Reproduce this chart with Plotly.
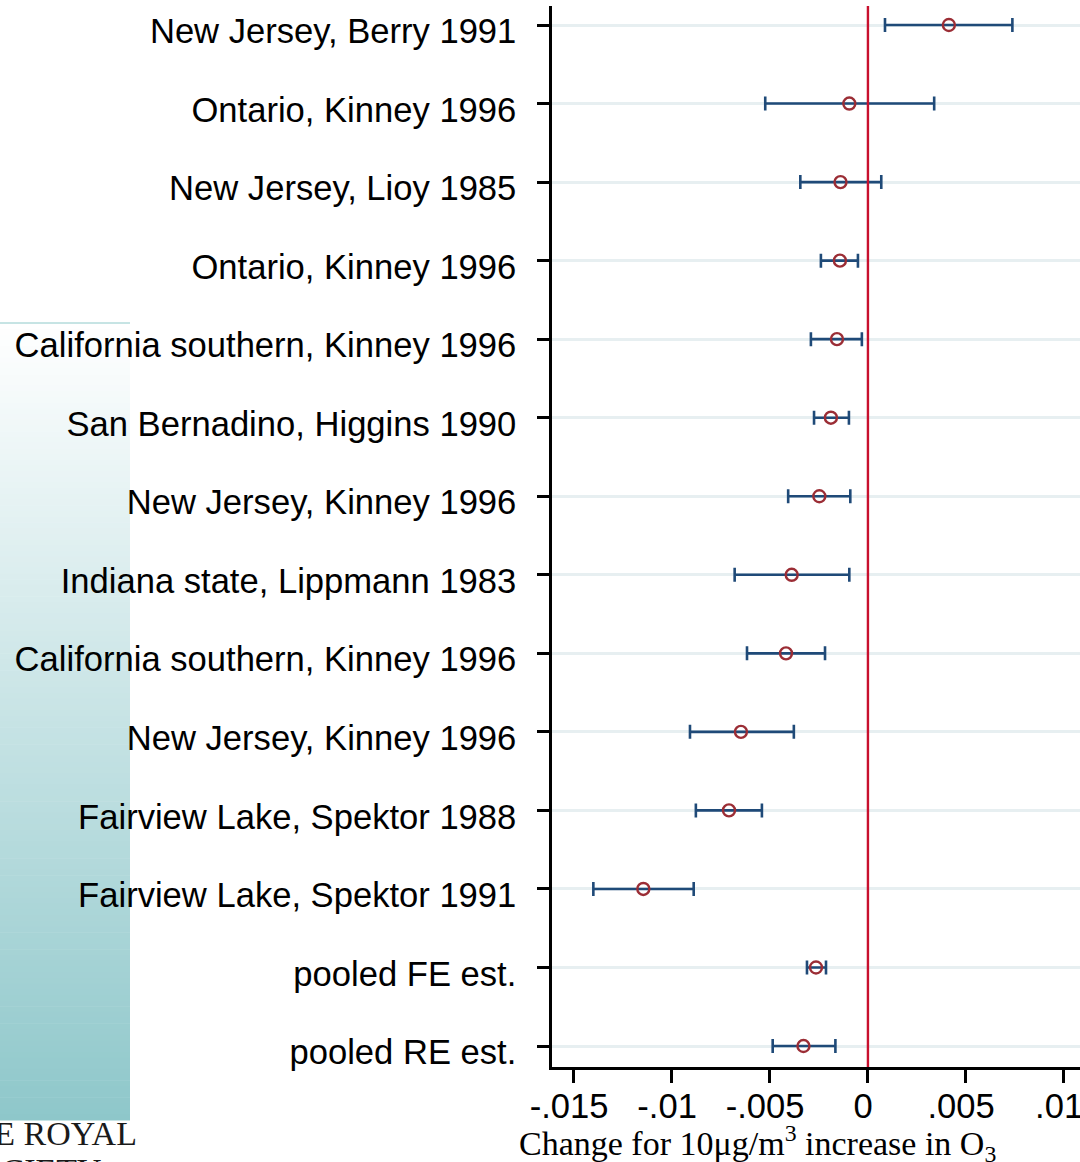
import plotly.graph_objects as go

# ---------------- data ----------------
studies = [
    "New Jersey, Berry 1991",
    "Ontario, Kinney 1996",
    "New Jersey, Lioy 1985",
    "Ontario, Kinney 1996",
    "California southern, Kinney 1996",
    "San Bernadino, Higgins 1990",
    "New Jersey, Kinney 1996",
    "Indiana state, Lippmann 1983",
    "California southern, Kinney 1996",
    "New Jersey, Kinney 1996",
    "Fairview Lake, Spektor 1988",
    "Fairview Lake, Spektor 1991",
    "pooled FE est.",
    "pooled RE est.",
]
estimate = [0.00413, -0.00095, -0.00140, -0.00143, -0.00158, -0.00189, -0.00248,
            -0.00389, -0.00418, -0.00648, -0.00709, -0.01146, -0.00265, -0.00329]
ci_low = [0.00087, -0.00524, -0.00345, -0.00240, -0.00291, -0.00275, -0.00407,
          -0.00680, -0.00617, -0.00908, -0.00878, -0.01401, -0.00311, -0.00486]
ci_high = [0.00737, 0.00338, 0.00068, -0.00051, -0.00031, -0.00097, -0.00090,
           -0.00095, -0.00219, -0.00378, -0.00541, -0.00889, -0.00214, -0.00166]
x_tickvals = [-0.015, -0.01, -0.005, 0, 0.005, 0.01]
x_ticktext = ["-.015", "-.01", "-.005", "0", ".005", ".01"]

# ---------------- layout constants ----------------
W, H = 1080, 1162
ML, MR, MT, MB = 552, 0, 6, 95
PW, PH = W - ML - MR, H - MT - MB


def px_x(px):
    return (px - ML) / PW


def px_y(py):
    return (H - MB - py) / PH


ypos = list(range(len(studies)))
err_plus = [h - e for h, e in zip(ci_high, estimate)]
err_minus = [e - l for e, l in zip(estimate, ci_low)]

fig = go.Figure()
fig.add_trace(go.Scatter(
    x=estimate, y=ypos, mode="markers",
    marker=dict(symbol="circle-open", size=12, color="#9b2d35",
                line=dict(width=2.4, color="#9b2d35")),
    error_x=dict(type="data", array=err_plus, arrayminus=err_minus,
                 color="#1f4a78", thickness=2.6, width=7),
    showlegend=False, hoverinfo="skip",
))

shapes = []
# gradient panel on the left (background decoration)
x0, x1 = px_x(0), px_x(130)
top, bot = 323, 1120
N = 140
c0 = (255, 255, 255)
c1 = (142, 199, 202)
for i in range(N):
    ya = top + (bot - top) * i / N
    yb = top + (bot - top) * (i + 1) / N + 0.6
    t = (i + 0.5) / N
    c = tuple(round(c0[k] + (c1[k] - c0[k]) * t) for k in range(3))
    shapes.append(dict(type="rect", xref="paper", yref="paper",
                       x0=x0, x1=x1, y0=px_y(yb), y1=px_y(ya),
                       fillcolor="rgb(%d,%d,%d)" % c, line=dict(width=0),
                       layer="below"))
shapes.append(dict(type="line", xref="paper", yref="paper",
                   x0=x0, x1=x1, y0=px_y(323), y1=px_y(323),
                   line=dict(color="#8ec9c9", width=1), layer="below"))
# reference line at zero
shapes.append(dict(type="line", xref="x", yref="paper", x0=0, x1=0, y0=0, y1=1,
                   line=dict(color="#c8102e", width=2.4), layer="above"))

annotations = [
    dict(text="Change for 10μg/m<sup>3</sup> increase in O<sub>3</sub>",
         xref="paper", yref="paper", x=px_x(517), y=px_y(1143),
         xanchor="left", yanchor="middle", showarrow=False,
         font=dict(family="Liberation Serif, Times New Roman, serif", size=34, color="black")),
    dict(text="THE ROYAL", xref="paper", yref="paper", x=px_x(139), y=px_y(1133),
         xanchor="right", yanchor="middle", showarrow=False,
         font=dict(family="Liberation Serif, serif", size=34, color="#1a1a1a")),
    dict(text="SOCIETY", xref="paper", yref="paper", x=px_x(104), y=px_y(1170),
         xanchor="right", yanchor="middle", showarrow=False,
         font=dict(family="Liberation Serif, serif", size=34, color="#1a1a1a")),
]

n = len(studies)
fig.update_layout(
    width=W, height=H,
    margin=dict(l=ML, r=MR, t=MT, b=MB, pad=0, autoexpand=False),
    paper_bgcolor="white", plot_bgcolor="white",
    font=dict(family="Liberation Sans, Arial, sans-serif", size=34.6, color="black"),
    shapes=shapes, annotations=annotations,
    xaxis=dict(range=[-0.01612, 0.01082], tickvals=x_tickvals,
               ticktext=[t + "\u00a0" for t in x_ticktext],
               showgrid=False, zeroline=False, automargin=False,
               showline=True, linecolor="black", linewidth=2.5,
               ticks="outside", ticklen=13, tickwidth=2.5, tickcolor="black",
               tickfont=dict(size=34.6, color="black"), ticklabelstandoff=-6,
               ticklabeloverflow="allow"),
    yaxis=dict(range=[n - 1 + 0.267, -0.242], tickvals=ypos, ticktext=studies,
               showgrid=True, gridcolor="#e7eff1", gridwidth=2.5,
               zeroline=False, automargin=False,
               showline=True, linecolor="black", linewidth=2.5,
               ticks="outside", ticklen=12, tickwidth=2.5, tickcolor="black",
               tickfont=dict(size=34.6, color="black"), ticklabelstandoff=14,
               ticklabelshift=-6),
)

fig.write_html("out.html")
